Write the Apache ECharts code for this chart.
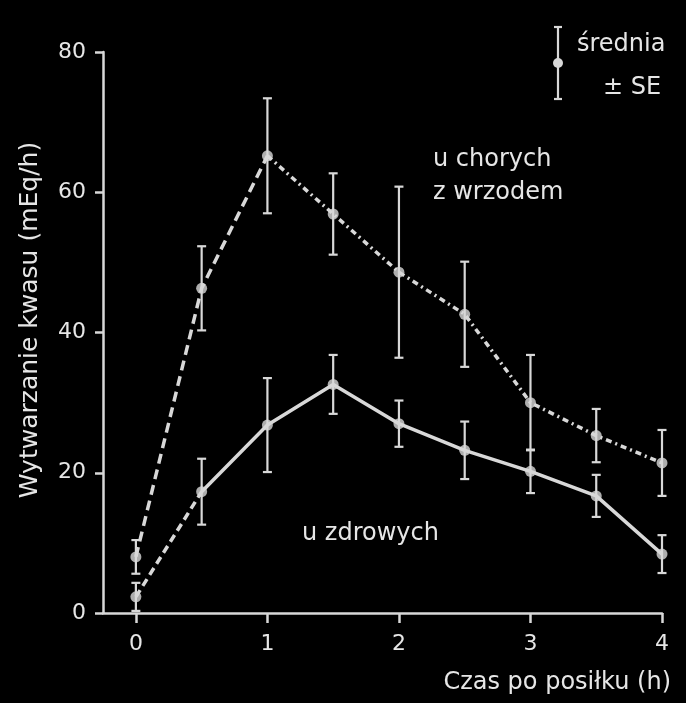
<!DOCTYPE html>
<html>
<head>
<meta charset="utf-8">
<script src="https://cdn.jsdelivr.net/npm/echarts@6/dist/echarts.min.js"></script>
<style>
html,body{margin:0;padding:0;background:#000;}
#chart{width:686px;height:703px;}
</style>
</head>
<body>
<div id="chart"></div>
<script>
// Data
const hours = [0, 0.5, 1, 1.5, 2, 2.5, 3, 3.5, 4];
const ulcerMean = [8, 46.3, 65.2, 56.9, 48.6, 42.6, 30, 25.3, 21.4];
const ulcerSE = [2.4, 6, 8.2, 5.8, 12.2, 7.5, 6.8, 3.8, 4.7];
const healthyMean = [2.3, 17.3, 26.8, 32.6, 27, 23.2, 20.2, 16.7, 8.4];
const healthySE = [2, 4.7, 6.7, 4.2, 3.3, 4.1, 3.1, 3, 2.7];
const xTicks = [0, 1, 2, 3, 4];
const yTicks = [0, 20, 40, 60, 80];
const yTitle = 'Wytwarzanie kwasu (mEq/h)';
const xTitle = 'Czas po posiłku (h)';
const ulcerLabel = ['u chorych', 'z wrzodem'];
const healthyLabel = 'u zdrowych';
const legendLabels = ['średnia', '± SE'];

const FG = '#e6e6e6';
const LINE = '#d8d8d8';
const FONT = 'DejaVu Sans';

const pts = (m) => hours.map((h, i) => [h, m[i]]);
const bars = (m, s) => hours.map((h, i) => [h, m[i] - s[i], m[i] + s[i]]);

function errRender(params, api) {
  const x = api.value(0), lo = api.value(1), hi = api.value(2);
  const a = api.coord([x, lo]), b = api.coord([x, hi]);
  const w = 4.5;
  const st = { stroke: LINE, lineWidth: 2.2 };
  return {
    type: 'group',
    children: [
      { type: 'line', shape: { x1: a[0], y1: a[1], x2: b[0], y2: b[1] }, style: st },
      { type: 'line', shape: { x1: b[0] - w, y1: b[1], x2: b[0] + w, y2: b[1] }, style: st },
      { type: 'line', shape: { x1: a[0] - w, y1: a[1], x2: a[0] + w, y2: a[1] }, style: st }
    ]
  };
}

const chart = echarts.init(document.getElementById('chart'));
const ts = (size) => ({ fill: FG, font: size + 'px "' + FONT + '"' });

chart.setOption({
  backgroundColor: '#000',
  animation: false,
  grid: { left: 103, right: 24, top: 52, bottom: 90, containLabel: false },
  xAxis: {
    type: 'value', min: -0.25, max: 4,
    axisLine: { onZero: false, lineStyle: { color: LINE, width: 2.5 } },
    axisTick: { show: true, length: 10, customValues: xTicks, lineStyle: { color: LINE, width: 2.5 } },
    axisLabel: { customValues: xTicks, color: FG, fontFamily: FONT, fontSize: 22, margin: 20 },
    splitLine: { show: false }
  },
  yAxis: {
    type: 'value', min: 0, max: 80, interval: 20,
    axisLine: { show: true, onZero: false, lineStyle: { color: LINE, width: 2.5 } },
    axisTick: { show: true, length: 8, customValues: yTicks, lineStyle: { color: LINE, width: 2.5 } },
    axisLabel: { customValues: yTicks, color: FG, fontFamily: FONT, fontSize: 22, margin: 17 },
    splitLine: { show: false }
  },
  graphic: [
    { type: 'text', x: 30, y: 320, rotation: Math.PI / 2,
      style: Object.assign({ text: yTitle, textAlign: 'center', textVerticalAlign: 'middle' }, ts(25)) },
    { type: 'text', x: 671, y: 683,
      style: Object.assign({ text: xTitle, textAlign: 'right', textVerticalAlign: 'middle' }, ts(24)) },
    { type: 'text', x: 433, y: 160,
      style: Object.assign({ text: ulcerLabel[0], textAlign: 'left', textVerticalAlign: 'middle' }, ts(24)) },
    { type: 'text', x: 433, y: 193,
      style: Object.assign({ text: ulcerLabel[1], textAlign: 'left', textVerticalAlign: 'middle' }, ts(24)) },
    { type: 'text', x: 302, y: 534,
      style: Object.assign({ text: healthyLabel, textAlign: 'left', textVerticalAlign: 'middle' }, ts(24)) },
    { type: 'text', x: 577, y: 45,
      style: Object.assign({ text: legendLabels[0], textAlign: 'left', textVerticalAlign: 'middle' }, ts(24)) },
    { type: 'text', x: 603, y: 88,
      style: Object.assign({ text: legendLabels[1], textAlign: 'left', textVerticalAlign: 'middle' }, ts(24)) },
    // legend icon: error bar with mean dot
    { type: 'line', shape: { x1: 558, y1: 27, x2: 558, y2: 99 }, style: { stroke: LINE, lineWidth: 2.2 } },
    { type: 'line', shape: { x1: 554, y1: 27, x2: 562, y2: 27 }, style: { stroke: LINE, lineWidth: 2.2 } },
    { type: 'line', shape: { x1: 554, y1: 99, x2: 562, y2: 99 }, style: { stroke: LINE, lineWidth: 2.2 } },
    { type: 'circle', shape: { cx: 558, cy: 63, r: 5 }, style: { fill: LINE } }
  ],
  series: [
    { type: 'line', data: pts(ulcerMean).slice(0, 3), symbol: 'none',
      lineStyle: { color: LINE, width: 3.5, type: [10, 6] } },
    { type: 'line', data: pts(ulcerMean).slice(2), symbol: 'none',
      lineStyle: { color: LINE, width: 3.5, type: [6, 4, 2, 4] } },
    { type: 'line', data: pts(healthyMean).slice(0, 2), symbol: 'none',
      lineStyle: { color: LINE, width: 3.5, type: [8, 5] } },
    { type: 'line', data: pts(healthyMean).slice(1), symbol: 'none',
      lineStyle: { color: LINE, width: 3.5, type: 'solid' } },
    { type: 'custom', renderItem: errRender, data: bars(ulcerMean, ulcerSE), encode: { x: 0, y: [1, 2] }, z: 3 },
    { type: 'custom', renderItem: errRender, data: bars(healthyMean, healthySE), encode: { x: 0, y: [1, 2] }, z: 3 },
    { type: 'scatter', data: pts(ulcerMean), symbol: 'circle', symbolSize: 11,
      itemStyle: { color: LINE }, z: 4 },
    { type: 'scatter', data: pts(healthyMean), symbol: 'circle', symbolSize: 11,
      itemStyle: { color: LINE }, z: 4 }
  ]
});
</script>
</body>
</html>
